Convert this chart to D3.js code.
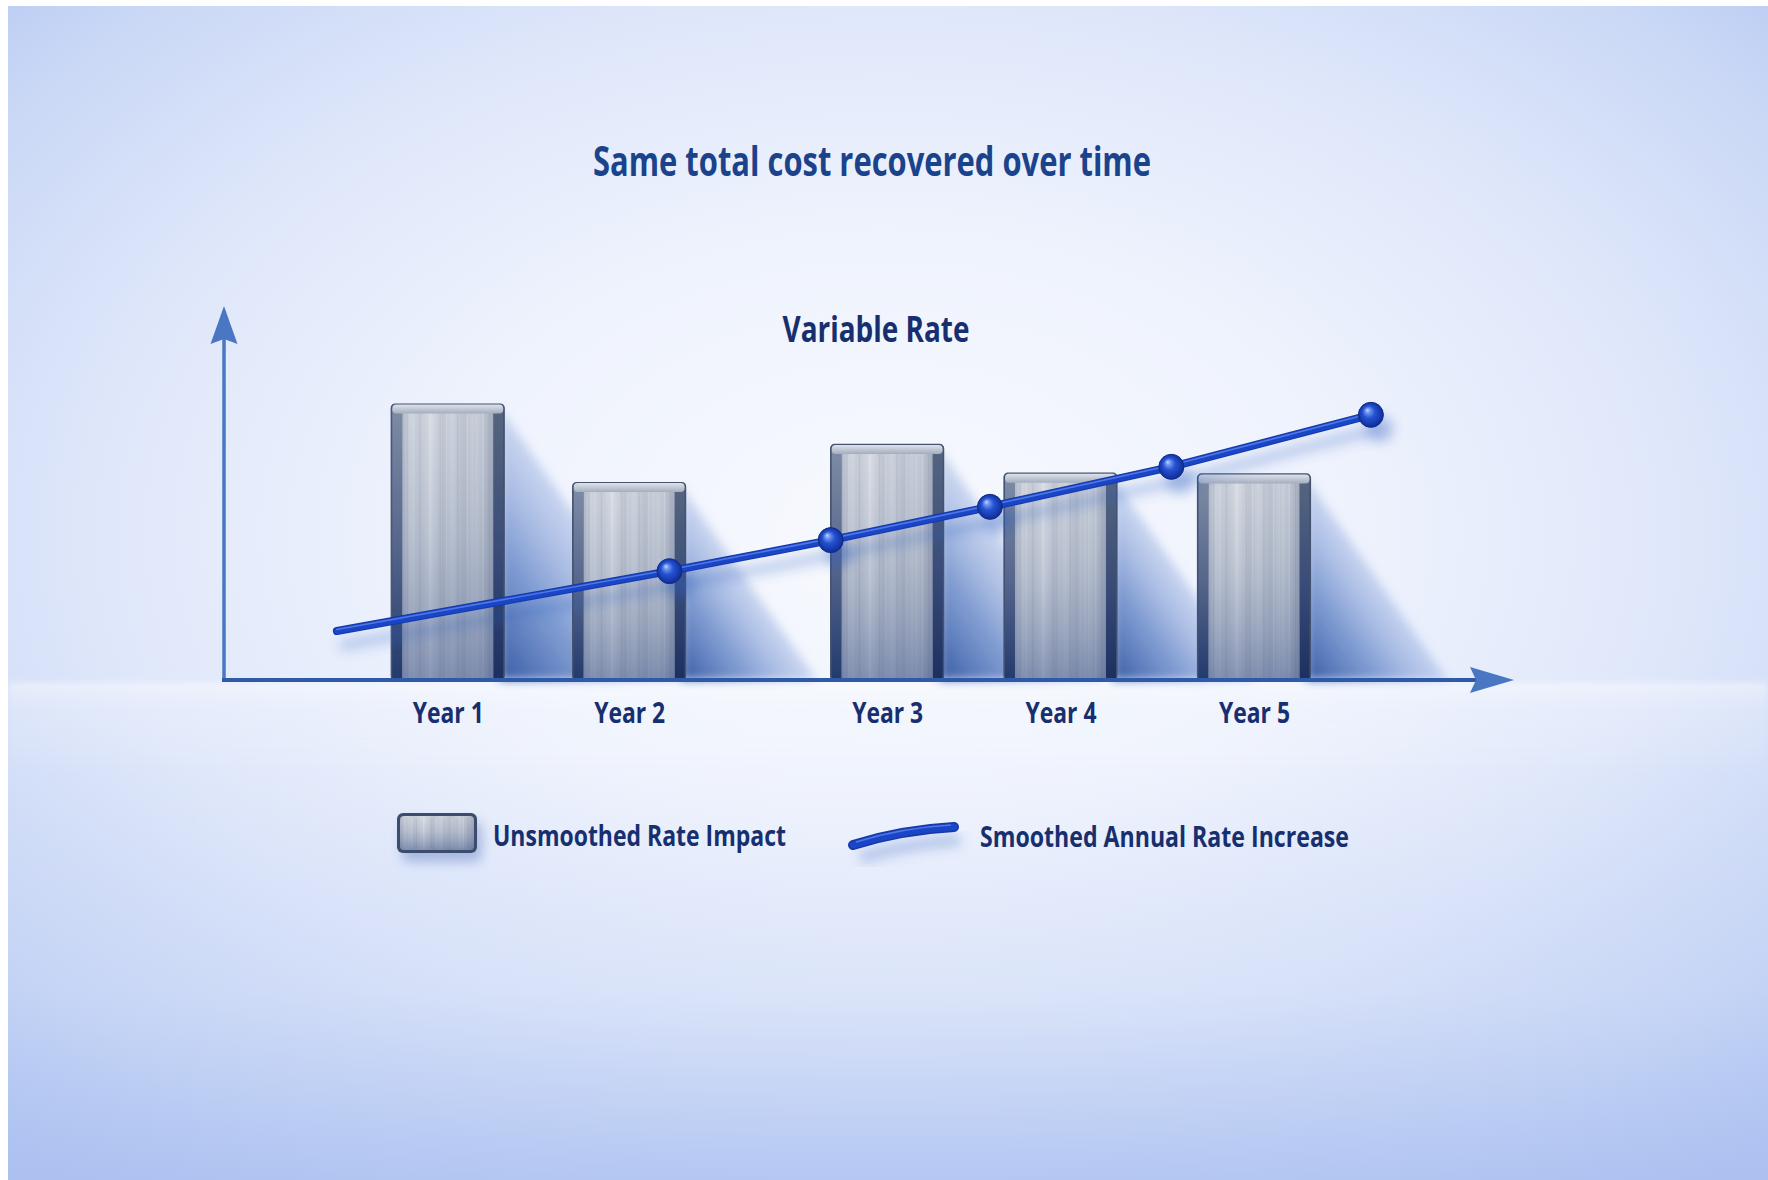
<!DOCTYPE html>
<html>
<head>
<meta charset="utf-8">
<script src="https://cdn.jsdelivr.net/npm/d3@7"></script>
<style>
  html, body { margin: 0; padding: 0; background: #ffffff; overflow: hidden; }
  svg { display: block; }
</style>
</head>
<body>
<script>
// ---- data ----------------------------------------------------------------
const categories = ["Year 1", "Year 2", "Year 3", "Year 4", "Year 5"];
// position of each year's bar along the time axis (years)
const barTime = [1, 1.9, 3.18, 4.04, 5];
// unsmoothed rate impact per year (index units)
const unsmoothedImpact = [73.8, 52.8, 63.0, 55.3, 55.1];
// smoothed annual rate path: time (years) and level (index units)
const smoothedTime = [0.45, 2.1, 2.9, 3.69, 4.59, 5.58];
const smoothedIncrease = [13.1, 29.1, 37.4, 46.3, 57.0, 70.9];

const chartTitle = "Same total cost recovered over time";
const chartSubtitle = "Variable Rate";
const legendLabels = ["Unsmoothed Rate Impact", "Smoothed Annual Rate Increase"];

// ---- layout --------------------------------------------------------------
const W = 1768, H = 1180;
const FONT = "'Open Sans', 'Noto Sans', 'DejaVu Sans', sans-serif";
const TEXT_DARK = "#172f6e";
const TITLE_BLUE = "#1b438c";
const AXIS_BLUE = "#4a77c4";
const LINE_BLUE = "#1a45c6";
const BAR_W = 113;

const x = d3.scaleLinear().domain([-0.11, 6.29]).range([224, 1514]);
const y = d3.scaleLinear().domain([0, 100]).range([680, 306]);

const svg = d3.select("body").append("svg")
  .attr("width", W).attr("height", H)
  .attr("viewBox", `0 0 ${W} ${H}`);

const defs = svg.append("defs");

function linGrad(id, x1, y1, x2, y2, stops) {
  const g = defs.append("linearGradient").attr("id", id)
    .attr("x1", x1).attr("y1", y1).attr("x2", x2).attr("y2", y2);
  stops.forEach(s => g.append("stop").attr("offset", s[0])
    .attr("stop-color", s[1]).attr("stop-opacity", s[2] == null ? 1 : s[2]));
  return g;
}
function radGrad(id, cx, cy, r, fx, fy, stops) {
  const g = defs.append("radialGradient").attr("id", id)
    .attr("cx", cx).attr("cy", cy).attr("r", r).attr("fx", fx).attr("fy", fy);
  stops.forEach(s => g.append("stop").attr("offset", s[0])
    .attr("stop-color", s[1]).attr("stop-opacity", s[2] == null ? 1 : s[2]));
  return g;
}
function blur(id, sd) {
  defs.append("filter").attr("id", id)
    .attr("x", "-50%").attr("y", "-50%").attr("width", "200%").attr("height", "200%")
    .append("feGaussianBlur").attr("stdDeviation", sd);
}

// backdrop gradients
radGrad("bgGlow", "50%", "45%", "72%", "50%", "45%", [
  [0, "#f7f9fe"], [0.35, "#eff3fd"], [0.62, "#dfe7fa"], [0.85, "#cad8f6"], [1, "#b5c8f2"]
]);
linGrad("bgBottom", 0, 0, 0, 1, [
  [0, "#a9bff0", 0], [0.55, "#b3c7f2", 0.18], [1, "#a8bef0", 0.7]
]);
linGrad("floorGlow", 0, 0, 0, 1, [
  [0, "#ffffff", 0.4], [0.3, "#f4f7fe", 0.22], [1, "#ffffff", 0]
]);
linGrad("ruleGrad", 0, 0, 1, 0, [
  [0, "#cfd8ef", 0], [0.2, "#cfd8ef", 1], [0.8, "#cfd8ef", 1], [1, "#cfd8ef", 0]
]);

// bar surfaces
linGrad("metalBody", 0, 0, 1, 0, [
  [0, "#a9b2c3"], [0.08, "#c9cfd9"], [0.2, "#bfc6d2"], [0.32, "#d2d7e0"],
  [0.45, "#b9c0cd"], [0.55, "#c8ced9"], [0.68, "#b4bcca"], [0.8, "#c6ccd7"],
  [0.92, "#b0b8c7"], [1, "#9aa4b7"]
]);
linGrad("metalShade", 0, 0, 0, 1, [
  [0, "#ffffff", 0.1], [0.45, "#5a6d96", 0.14], [1, "#28427e", 0.45]
]);
linGrad("leftFace", 0, 0, 0, 1, [
  [0, "#7d8ba4"], [0.5, "#56668c"], [1, "#223a6c"]
]);
linGrad("rightFace", 0, 0, 0, 1, [
  [0, "#55657f"], [0.5, "#3b4d78"], [1, "#1c2f60"]
]);
linGrad("topFace", 0, 0, 0, 1, [
  [0, "#dfe3ea"], [1, "#a4aebf"]
]);
linGrad("barShadow", 0, 1, 0.85, 0.15, [
  [0, "#1d4698", 0.88], [0.3, "#3e68b8", 0.62], [0.65, "#86a2de", 0.26], [1, "#c4d2f3", 0]
]);

// sphere markers
radGrad("sphere", "50%", "50%", "55%", "35%", "30%", [
  [0, "#c9d8ff"], [0.18, "#6f93f0"], [0.45, "#2452d2"], [0.8, "#1537a8"], [1, "#0c2680"]
]);

blur("soft3", 3);
blur("soft5", 5);
blur("soft6", 6);

// ---- backdrop ------------------------------------------------------------
svg.append("rect").attr("x", 0).attr("y", 0).attr("width", W).attr("height", H).attr("fill", "#ffffff");
const bg = svg.append("g");
bg.append("rect").attr("x", 8).attr("y", 6).attr("width", W - 8).attr("height", H - 6)
  .attr("fill", "url(#bgGlow)");
bg.append("rect").attr("x", 8).attr("y", 760).attr("width", W - 8).attr("height", H - 760)
  .attr("fill", "url(#bgBottom)");
// floor plane below the baseline, with a soft horizon
const floor = bg.append("g").attr("filter", "url(#soft3)");
floor.append("rect").attr("x", 8).attr("y", 684).attr("width", W - 8).attr("height", 90)
  .attr("fill", "url(#floorGlow)");
floor.append("line").attr("x1", 8).attr("x2", W).attr("y1", 685).attr("y2", 685)
  .attr("stroke", "#ffffff").attr("stroke-width", 3).attr("stroke-opacity", 0.45);

// ---- titles ----------------------------------------------------------------
svg.append("text")
  .attr("x", 872).attr("y", 176)
  .attr("text-anchor", "middle")
  .attr("font-family", FONT).attr("font-weight", 700).attr("font-size", 41)
  .attr("fill", TITLE_BLUE)
  .attr("textLength", 558).attr("lengthAdjust", "spacingAndGlyphs")
  .text(chartTitle);
svg.append("line").attr("x1", 474).attr("x2", 1364).attr("y1", 194).attr("y2", 194)
  .attr("stroke", "url(#ruleGrad)").attr("stroke-width", 2);

svg.append("text")
  .attr("x", 876).attr("y", 342)
  .attr("text-anchor", "middle")
  .attr("font-family", FONT).attr("font-weight", 700).attr("font-size", 35)
  .attr("fill", TEXT_DARK)
  .attr("textLength", 187).attr("lengthAdjust", "spacingAndGlyphs")
  .text(chartSubtitle);
svg.append("line").attr("x1", 430).attr("x2", 1330).attr("y1", 356).attr("y2", 356)
  .attr("stroke", "url(#ruleGrad)").attr("stroke-width", 1.5).attr("stroke-opacity", 0.7);

// ---- axes ----------------------------------------------------------------
const axes = svg.append("g");
const x0 = x.range()[0], x1 = x.range()[1];
const yBase = y(0), yTop = y.range()[1];

axes.append("line")
  .attr("x1", x0).attr("x2", x0).attr("y1", yBase).attr("y2", yTop + 30)
  .attr("stroke", AXIS_BLUE).attr("stroke-width", 3.5);
axes.append("path")
  .attr("d", `M${x0},${yTop} L${x0 + 13.5},${yTop + 38} L${x0},${yTop + 33} L${x0 - 13.5},${yTop + 38} Z`)
  .attr("fill", AXIS_BLUE);

// ---- bars ----------------------------------------------------------------
const barData = categories.map((c, i) => ({ c, t: barTime[i], v: unsmoothedImpact[i] }));

// cast shadows behind the bars
svg.append("g").attr("filter", "url(#soft5)")
  .selectAll("path").data(barData).join("path")
  .attr("d", d => {
    const xr = x(d.t) + BAR_W / 2 - 4, top = y(d.v) + 4, h = yBase - top;
    return `M${xr},${top} L${xr + h * 0.7},${yBase} L${xr},${yBase} Z`;
  })
  .attr("fill", "url(#barShadow)");

const bars = svg.append("g").selectAll("g").data(barData).join("g")
  .attr("transform", d => `translate(${x(d.t) - BAR_W / 2},${y(d.v)})`);

bars.append("rect")
  .attr("width", BAR_W).attr("height", d => yBase - y(d.v))
  .attr("rx", 4)
  .attr("fill", "#3d4f78").attr("stroke", "#44536f").attr("stroke-width", 1.2);
bars.append("rect")
  .attr("x", 1).attr("y", 6).attr("width", 10).attr("height", d => yBase - y(d.v) - 6)
  .attr("fill", "url(#leftFace)");
bars.append("rect")
  .attr("x", BAR_W - 11).attr("y", 6).attr("width", 10).attr("height", d => yBase - y(d.v) - 6)
  .attr("fill", "url(#rightFace)");
bars.append("rect")
  .attr("x", 11).attr("y", 8).attr("width", BAR_W - 22).attr("height", d => yBase - y(d.v) - 8)
  .attr("fill", "url(#metalBody)");
// brushed metal streaks
const streaks = [0.05, 0.12, 0.19, 0.3, 0.41, 0.48, 0.6, 0.71, 0.79, 0.88, 0.95];
bars.each(function (d) {
  const g = d3.select(this);
  const h = yBase - y(d.v);
  streaks.forEach((f, k) => {
    g.append("rect")
      .attr("x", 11 + f * (BAR_W - 22)).attr("y", 9)
      .attr("width", k % 3 === 0 ? 1.5 : 1).attr("height", h - 9)
      .attr("fill", k % 2 ? "#ffffff" : "#6f7a90")
      .attr("opacity", k % 2 ? 0.22 : 0.14);
  });
});
bars.append("rect")
  .attr("x", 11).attr("y", 8).attr("width", BAR_W - 22).attr("height", d => yBase - y(d.v) - 8)
  .attr("fill", "url(#metalShade)");
bars.append("rect")
  .attr("x", 1).attr("y", 0.5).attr("width", BAR_W - 2).attr("height", 9)
  .attr("rx", 4)
  .attr("fill", "url(#topFace)");

// x axis with arrow, drawn over the bar feet
svg.append("line")
  .attr("x1", x0 - 2).attr("x2", x1 - 36).attr("y1", yBase).attr("y2", yBase)
  .attr("stroke", "#2f5aa8").attr("stroke-width", 4);
svg.append("path")
  .attr("d", `M${x1},${yBase} L${x1 - 44},${yBase - 13} L${x1 - 38},${yBase} L${x1 - 44},${yBase + 13} Z`)
  .attr("fill", AXIS_BLUE);

// year labels
const xAxis = d3.axisBottom(x)
  .tickValues(barTime)
  .tickFormat((d, i) => categories[i])
  .tickSize(0).tickPadding(23);
const xg = svg.append("g").attr("transform", `translate(0,${yBase})`).call(xAxis);
xg.select(".domain").remove();
xg.selectAll("text")
  .attr("font-family", FONT).attr("font-weight", 700).attr("font-size", 28)
  .attr("fill", TEXT_DARK)
  .attr("textLength", 71).attr("lengthAdjust", "spacingAndGlyphs");

// ---- smoothed line -------------------------------------------------------
const pts = smoothedTime.map((t, i) => [x(t), y(smoothedIncrease[i])]);
const line = d3.line();

svg.append("path").attr("d", line(pts))
  .attr("transform", "translate(8,14)")
  .attr("fill", "none").attr("stroke", "#2f5cc0").attr("stroke-opacity", 0.25)
  .attr("stroke-width", 12).attr("stroke-linecap", "round")
  .attr("filter", "url(#soft6)");
svg.append("g").selectAll("circle").data(pts.slice(1)).join("circle")
  .attr("cx", d => d[0] + 9).attr("cy", d => d[1] + 14).attr("r", 14)
  .attr("fill", "#2f5cc0").attr("opacity", 0.28).attr("filter", "url(#soft6)");

svg.append("path").attr("d", line(pts))
  .attr("fill", "none").attr("stroke", "#1638a8")
  .attr("stroke-width", 8).attr("stroke-linecap", "round");
svg.append("path").attr("d", line(pts))
  .attr("fill", "none").attr("stroke", LINE_BLUE)
  .attr("stroke-width", 6).attr("stroke-linecap", "round");
svg.append("path").attr("d", line(pts))
  .attr("transform", "translate(0,-1.5)")
  .attr("fill", "none").attr("stroke", "#5a84ee").attr("stroke-opacity", 0.8)
  .attr("stroke-width", 1.6).attr("stroke-linecap", "round");

svg.append("g").selectAll("circle").data(pts.slice(1)).join("circle")
  .attr("cx", d => d[0]).attr("cy", d => d[1]).attr("r", 12.5)
  .attr("fill", "url(#sphere)").attr("stroke", "#0f2b8a").attr("stroke-width", 1);

// ---- legend --------------------------------------------------------------
const lg = svg.append("g");
// bar swatch
lg.append("rect").attr("x", 402).attr("y", 822).attr("width", 80).attr("height", 40).attr("rx", 7)
  .attr("fill", "#3a5fb0").attr("opacity", 0.35).attr("filter", "url(#soft6)");
lg.append("rect").attr("x", 397).attr("y", 813).attr("width", 80).attr("height", 40).attr("rx", 6)
  .attr("fill", "#3c4c6e");
lg.append("rect").attr("x", 400).attr("y", 816).attr("width", 74).attr("height", 34).attr("rx", 4)
  .attr("fill", "url(#metalBody)");
streaks.forEach((f, k) => {
  lg.append("rect").attr("x", 403 + f * 68).attr("y", 818).attr("width", 1).attr("height", 30)
    .attr("fill", k % 2 ? "#ffffff" : "#6f7a90").attr("opacity", k % 2 ? 0.25 : 0.15);
});
lg.append("rect").attr("x", 400).attr("y", 816).attr("width", 74).attr("height", 34).attr("rx", 4)
  .attr("fill", "url(#metalShade)");

lg.append("text").attr("x", 493).attr("y", 846)
  .attr("font-family", FONT).attr("font-weight", 700).attr("font-size", 28)
  .attr("fill", TEXT_DARK)
  .attr("textLength", 293).attr("lengthAdjust", "spacingAndGlyphs")
  .text(legendLabels[0]);

// line swatch
lg.append("path").attr("d", "M860,858 Q905,844 960,840")
  .attr("fill", "none").attr("stroke", "#3a64c0").attr("stroke-opacity", 0.3)
  .attr("stroke-width", 12).attr("filter", "url(#soft6)");
lg.append("path").attr("d", "M853,845 Q900,830 954,827")
  .attr("fill", "none").attr("stroke", "#1638a8").attr("stroke-width", 10)
  .attr("stroke-linecap", "round");
lg.append("path").attr("d", "M853,845 Q900,830 954,827")
  .attr("fill", "none").attr("stroke", LINE_BLUE).attr("stroke-width", 7)
  .attr("stroke-linecap", "round");
lg.append("path").attr("d", "M856,842 Q900,828 951,825")
  .attr("fill", "none").attr("stroke", "#5a84ee").attr("stroke-opacity", 0.8)
  .attr("stroke-width", 1.6);

lg.append("text").attr("x", 980).attr("y", 847)
  .attr("font-family", FONT).attr("font-weight", 700).attr("font-size", 28)
  .attr("fill", TEXT_DARK)
  .attr("textLength", 369).attr("lengthAdjust", "spacingAndGlyphs")
  .text(legendLabels[1]);
</script>
</body>
</html>
